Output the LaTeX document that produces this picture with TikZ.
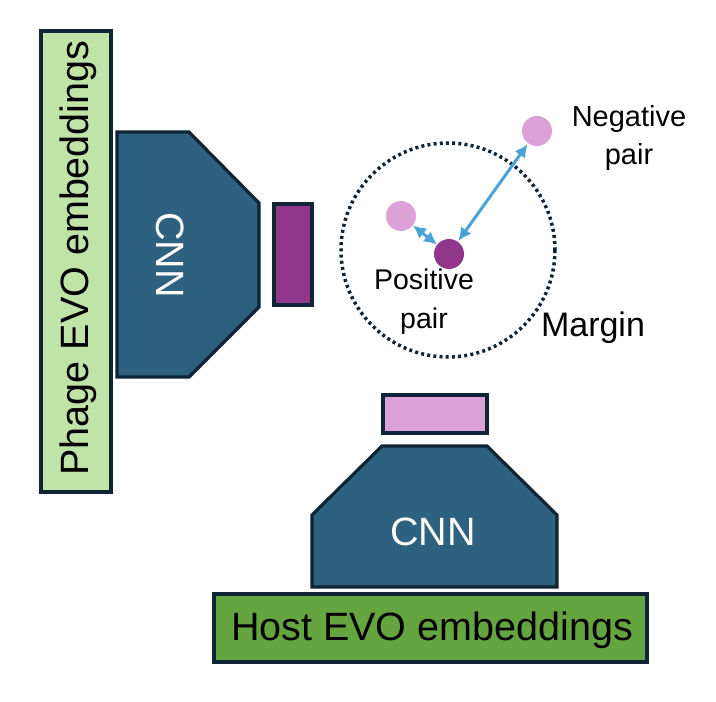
\documentclass[tikz,border=0pt]{standalone}
\usepackage{fontspec}
\setmainfont{Liberation Sans}
\usetikzlibrary{arrows.meta}
\definecolor{lgreen}{HTML}{C0E4A8}
\definecolor{dgreen}{HTML}{64A540}
\definecolor{cnnblue}{HTML}{2E607F}
\definecolor{edge}{HTML}{0F2435}
\definecolor{dpurple}{HTML}{92368C}
\definecolor{lpink}{HTML}{DBA1D8}
\definecolor{arrowblue}{HTML}{4AA3D6}
\tikzset{
  box/.style={draw=edge, line width=3.2pt},
  dot/.style={circle, inner sep=0pt, minimum size=30pt},
  pairarrow/.style={draw=arrowblue, line width=3pt, {Latex[length=13pt,width=13pt]}-{Latex[length=13pt,width=13pt]}},
  lbl/.style={inner sep=0pt, text=black},
  big/.style={font=\fontsize{39.5}{42}\selectfont},
}
\begin{document}
\begin{tikzpicture}[x=1pt,y=-1pt]
\useasboundingbox (0,0) rectangle (716,702);
% Phage embeddings
\draw[box, fill=lgreen] (41,31) rectangle (111,492);
\node[lbl, big, rotate=90] (phage) at (78,258) {Phage EVO embeddings};
% left CNN
\draw[box, fill=cnnblue] (117,132) -- (189,132) -- (259,203) -- (259,307) -- (189,377) -- (117,377) -- cycle;
\node[lbl, big, text=white, rotate=-90] (cnn1) at (170,255) {CNN};
% phage output vector
\draw[box, fill=dpurple] (274,204) rectangle (312,305);
% margin circle
\draw[edge, line width=3.5pt, dash pattern=on 3pt off 3.2pt] (448,250) circle (107);
% dots
\node[dot, fill=lpink] (neg) at (537,131) {};
\node[dot, fill=lpink] (pos) at (401,216) {};
\node[dot, fill=dpurple] (anc) at (449,254) {};
\draw[pairarrow, shorten <=1pt, shorten >=1pt] (anc) -- (neg);
\draw[pairarrow] (pos) -- (anc);
% labels
\node[lbl, font=\fontsize{29}{38}\selectfont, align=center] (neglbl) at (629,138) {Negative\\pair};
\node[lbl, font=\fontsize{28.5}{39}\selectfont, align=center] (poslbl) at (424,302) {Positive\\pair};
\node[lbl, font=\fontsize{34}{40}\selectfont] (margin) at (593,328) {Margin};
% host output vector
\draw[box, fill=lpink] (383,395) rectangle (487,433);
% bottom CNN
\draw[box, fill=cnnblue] (382,446) -- (487,446) -- (557,515) -- (557,587) -- (312,587) -- (312,515) -- cycle;
\node[lbl, big, text=white] (cnn2) at (433,532) {CNN};
% host embeddings
\draw[box, fill=dgreen] (214,594) rectangle (647,662);
\node[lbl, big] (host) at (432,630) {Host EVO embeddings};
\end{tikzpicture}
\end{document}
